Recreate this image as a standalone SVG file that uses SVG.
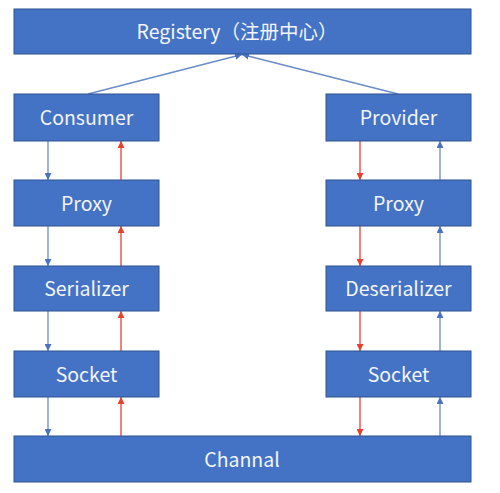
<svg xmlns="http://www.w3.org/2000/svg" width="500" height="493" viewBox="0 0 500 493">
<style>
.box{fill:#4472C4;stroke:#2F528F;stroke-width:1}
.lbl{fill:#F2F5FB;font-family:"Noto Sans CJK SC","Noto Sans",sans-serif;font-size:19.5px;text-anchor:middle;dominant-baseline:central}
.b{stroke:#6A8CC7;stroke-width:1.3;fill:none}
.r{stroke:#E8402F;stroke-width:1.3;fill:none}
</style>
<defs>
<marker id="ab" viewBox="0 0 10 10" refX="10" refY="5" markerWidth="7" markerHeight="7" markerUnits="userSpaceOnUse" orient="auto"><path d="M0,0L10,5L0,10z" fill="#4A72C0"/></marker>
<marker id="ar" viewBox="0 0 10 10" refX="10" refY="5" markerWidth="7" markerHeight="7" markerUnits="userSpaceOnUse" orient="auto"><path d="M0,0L10,5L0,10z" fill="#E8402F"/></marker>
</defs>
<rect width="500" height="493" fill="#FFFFFF"/>
<g id="connectors">
<line class="b" x1="88" y1="94" x2="242" y2="54.5" marker-end="url(#ab)"/>
<line class="b" x1="398" y1="94" x2="242" y2="54.5" marker-end="url(#ab)"/>
<line class="b" x1="48" y1="141" x2="48" y2="180" marker-end="url(#ab)"/>
<line class="b" x1="48" y1="226" x2="48" y2="266" marker-end="url(#ab)"/>
<line class="b" x1="48" y1="311" x2="48" y2="351" marker-end="url(#ab)"/>
<line class="b" x1="48" y1="397" x2="48" y2="436" marker-end="url(#ab)"/>
<line class="r" x1="121" y1="180" x2="121" y2="141" marker-end="url(#ar)"/>
<line class="r" x1="121" y1="266" x2="121" y2="226" marker-end="url(#ar)"/>
<line class="r" x1="121" y1="351" x2="121" y2="311" marker-end="url(#ar)"/>
<line class="r" x1="121" y1="436" x2="121" y2="397" marker-end="url(#ar)"/>
<line class="r" x1="360" y1="141" x2="360" y2="180" marker-end="url(#ar)"/>
<line class="r" x1="360" y1="226" x2="360" y2="266" marker-end="url(#ar)"/>
<line class="r" x1="360" y1="311" x2="360" y2="351" marker-end="url(#ar)"/>
<line class="r" x1="360" y1="397" x2="360" y2="436" marker-end="url(#ar)"/>
<line class="b" x1="440" y1="180" x2="440" y2="141" marker-end="url(#ab)"/>
<line class="b" x1="440" y1="266" x2="440" y2="226" marker-end="url(#ab)"/>
<line class="b" x1="440" y1="351" x2="440" y2="311" marker-end="url(#ab)"/>
<line class="b" x1="440" y1="436" x2="440" y2="397" marker-end="url(#ab)"/>
</g>
<g id="registry"><rect class="box" x="14" y="9" width="457" height="45"/><text class="lbl" x="237" y="30.5">Registery（注册中心）</text></g>
<g id="consumer"><rect class="box" x="14" y="94" width="145" height="47"/><text class="lbl" x="86.5" y="116.5">Consumer</text></g>
<g id="proxy-left"><rect class="box" x="14" y="180" width="145" height="46"/><text class="lbl" x="86.5" y="202.5">Proxy</text></g>
<g id="serializer"><rect class="box" x="14" y="266" width="145" height="45"/><text class="lbl" x="86.5" y="287.5">Serializer</text></g>
<g id="socket-left"><rect class="box" x="14" y="351" width="145" height="46"/><text class="lbl" x="86.5" y="373.5">Socket</text></g>
<g id="provider"><rect class="box" x="326" y="94" width="145" height="47"/><text class="lbl" x="398.5" y="116.5">Provider</text></g>
<g id="proxy-right"><rect class="box" x="326" y="180" width="145" height="46"/><text class="lbl" x="398.5" y="202.5">Proxy</text></g>
<g id="deserializer"><rect class="box" x="326" y="266" width="145" height="45"/><text class="lbl" x="398.5" y="287.5">Deserializer</text></g>
<g id="socket-right"><rect class="box" x="326" y="351" width="145" height="46"/><text class="lbl" x="398.5" y="373.5">Socket</text></g>
<g id="channal"><rect class="box" x="14" y="436" width="457" height="46"/><text class="lbl" x="242" y="458.5">Channal</text></g>
</svg>
